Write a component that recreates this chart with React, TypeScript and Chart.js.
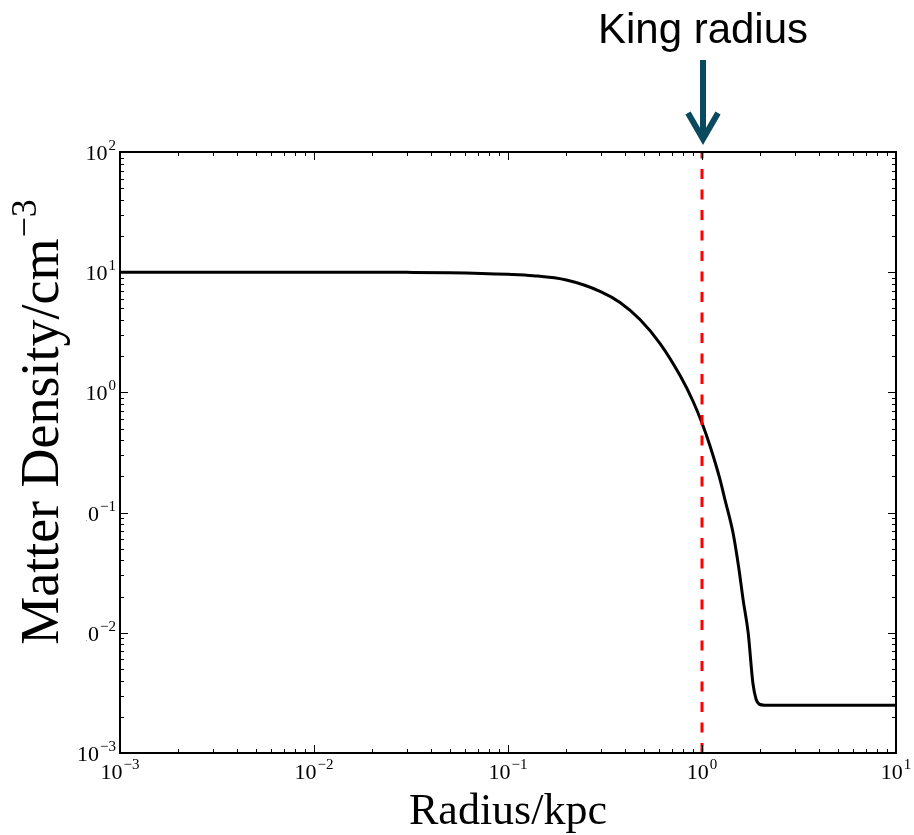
import React, { useEffect, useRef } from "react";
import { Chart, registerables } from "chart.js";

Chart.register(...registerables);

// Radius (kpc)
const radius: number[] = [
  0.001, 0.01, 0.03, 0.05, 0.1, 0.135, 0.2, 0.3, 0.378, 0.479, 0.608, 0.771,
  0.9, 1.0, 1.1, 1.24, 1.31, 1.445, 1.55, 1.63, 1.73, 1.83, 1.9, 1.97, 2.1, 10,
];
// Matter density (cm^-3)
const density: number[] = [
  10, 10, 9.97, 9.9, 9.6, 9.35, 8.6, 6.9, 5.6, 4.04, 2.55, 1.38, 0.84, 0.556,
  0.358, 0.187, 0.13, 0.068, 0.034, 0.0187, 0.01, 0.0038, 0.0028, 0.00255,
  0.0025, 0.0025,
];
const kingRadius: number[] = [1, 1];
const kingLineY: number[] = [1e-3, 1e2];

const xDecades: number[] = [-3, -2, -1, 0, 1];
const yDecades: number[] = [-3, -2, -1, 0, 1, 2];

const xTitle = "Radius/kpc";
const yTitleBase = "Matter Density/cm";
const yTitleSup = "\u22123";
const annotationText = "King radius";

const SERIF = "'Liberation Serif', 'DejaVu Serif', serif";
const SANS = "'Liberation Sans', Arial, sans-serif";

function supStr(e: number): string {
  return e < 0 ? "\u2212" + String(-e) : String(e);
}

function measureSup(ctx: CanvasRenderingContext2D, base: string, sup: string, bf: string, sf: string) {
  ctx.font = bf;
  const wb = ctx.measureText(base).width;
  ctx.font = sf;
  const ws = ctx.measureText(sup).width;
  return { wb, ws, w: wb + ws + 1 };
}

function drawSup(
  ctx: CanvasRenderingContext2D,
  base: string,
  sup: string,
  x: number,
  y: number,
  bf: string,
  sf: string,
  rise: number
) {
  ctx.textAlign = "left";
  ctx.textBaseline = "alphabetic";
  ctx.font = bf;
  ctx.fillText(base, x, y);
  const wb = ctx.measureText(base).width;
  ctx.font = sf;
  ctx.fillText(sup, x + wb + 1, y - rise);
}

const decorPlugin = {
  id: "decor",
  afterDraw(chart: any) {
    const ctx: CanvasRenderingContext2D = chart.ctx;
    const xs = chart.scales.x;
    const ys = chart.scales.y;
    const a = chart.chartArea;
    ctx.save();

    // ticks (inward, all sides)
    ctx.strokeStyle = "#000";
    ctx.lineWidth = 1;
    const majLen = 8;
    const minLen = 4;
    for (let e = -3; e <= 1; e++) {
      for (let m = 1; m <= 9; m++) {
        const v = m * Math.pow(10, e);
        if (v > 10 + 1e-9) break;
        const px = Math.round(xs.getPixelForValue(v)) + 0.5;
        const len = m === 1 ? majLen : minLen;
        ctx.beginPath();
        ctx.moveTo(px, a.bottom);
        ctx.lineTo(px, a.bottom - len);
        ctx.moveTo(px, a.top);
        ctx.lineTo(px, a.top + len);
        ctx.stroke();
      }
    }
    for (let e = -3; e <= 2; e++) {
      for (let m = 1; m <= 9; m++) {
        const v = m * Math.pow(10, e);
        if (v > 100 + 1e-9) break;
        const py = Math.round(ys.getPixelForValue(v)) + 0.5;
        const len = m === 1 ? majLen : minLen;
        ctx.beginPath();
        ctx.moveTo(a.left, py);
        ctx.lineTo(a.left + len, py);
        ctx.moveTo(a.right, py);
        ctx.lineTo(a.right - len, py);
        ctx.stroke();
      }
    }

    // spines
    ctx.lineWidth = 2;
    ctx.strokeRect(a.left, a.top, a.right - a.left, a.bottom - a.top);

    // tick labels
    ctx.fillStyle = "#000";
    const bf = `22px ${SERIF}`;
    const sf = `15px ${SERIF}`;
    for (const e of yDecades) {
      const py = ys.getPixelForValue(Math.pow(10, e));
      const s = supStr(e);
      const m = measureSup(ctx, "10", s, bf, sf);
      drawSup(ctx, "10", s, a.left - 4 - m.w, py + 8, bf, sf, 10);
    }
    for (const e of xDecades) {
      const px = xs.getPixelForValue(Math.pow(10, e));
      const s = supStr(e);
      const m = measureSup(ctx, "10", s, bf, sf);
      drawSup(ctx, "10", s, px - m.w / 2, a.bottom + 26, bf, sf, 10);
    }

    // white box behind y title (hides part of tick labels like the reference)
    ctx.fillStyle = "#fff";
    ctx.fillRect(0, 180, 86, 485);

    // y title
    ctx.fillStyle = "#000";
    const tbf = `54px ${SERIF}`;
    const tsf = `36px ${SERIF}`;
    const mt = measureSup(ctx, yTitleBase, yTitleSup, tbf, tsf);
    ctx.save();
    ctx.translate(58, 422);
    ctx.rotate(-Math.PI / 2);
    drawSup(ctx, yTitleBase, yTitleSup, -mt.w / 2, 0, tbf, tsf, 22);
    ctx.restore();

    // x title
    ctx.font = `44px ${SERIF}`;
    ctx.textAlign = "center";
    ctx.textBaseline = "alphabetic";
    ctx.fillText(xTitle, (a.left + a.right) / 2, 824);

    // annotation
    const kx = Math.round(xs.getPixelForValue(1)) + 1;
    ctx.font = `42px ${SANS}`;
    ctx.textAlign = "center";
    ctx.fillStyle = "#000";
    ctx.fillText(annotationText, kx, 43);
    ctx.strokeStyle = "#0b4a5e";
    ctx.lineWidth = 6;
    ctx.lineCap = "butt";
    ctx.lineJoin = "miter";
    ctx.beginPath();
    ctx.moveTo(kx, 60);
    ctx.lineTo(kx, 138);
    ctx.stroke();
    ctx.beginPath();
    ctx.moveTo(kx - 15, 113);
    ctx.lineTo(kx, 139);
    ctx.lineTo(kx + 15, 113);
    ctx.stroke();

    ctx.restore();
  },
};

export default function App() {
  const ref = useRef<HTMLCanvasElement | null>(null);
  useEffect(() => {
    if (!ref.current) return;
    const chart = new Chart(ref.current, {
      type: "line",
      data: {
        datasets: [
          {
            label: "King radius",
            data: kingRadius.map((x, i) => ({ x, y: kingLineY[i] })),
            borderColor: "#ff0000",
            borderWidth: 3,
            borderDash: [10, 10.5],
            pointRadius: 0,
            order: 0,
          },
          {
            label: "Density",
            data: radius.map((x, i) => ({ x, y: density[i] })),
            borderColor: "#000000",
            borderWidth: 3,
            pointRadius: 0,
            cubicInterpolationMode: "monotone",
            order: 1,
          },
        ],
      },
      options: {
        responsive: false,
        animation: false,
        devicePixelRatio: 1,
        layout: { padding: { left: 120, right: 18, top: 152, bottom: 82 } },
        plugins: { legend: { display: false }, tooltip: { enabled: false } },
        scales: {
          x: {
            type: "logarithmic",
            min: 1e-3,
            max: 10,
            ticks: { display: false },
            grid: { display: false },
            border: { display: false },
            afterFit: (s: any) => {
              s.height = 0;
            },
          },
          y: {
            type: "logarithmic",
            min: 1e-3,
            max: 100,
            ticks: { display: false },
            grid: { display: false },
            border: { display: false },
            afterFit: (s: any) => {
              s.width = 0;
            },
          },
        },
      } as any,
      plugins: [decorPlugin],
    });
    return () => chart.destroy();
  }, []);
  return (
    <div style={{ position: "absolute", left: 0, top: 0, width: 914, height: 835, background: "#fff" }}>
      <canvas ref={ref} width={914} height={835} />
    </div>
  );
}
